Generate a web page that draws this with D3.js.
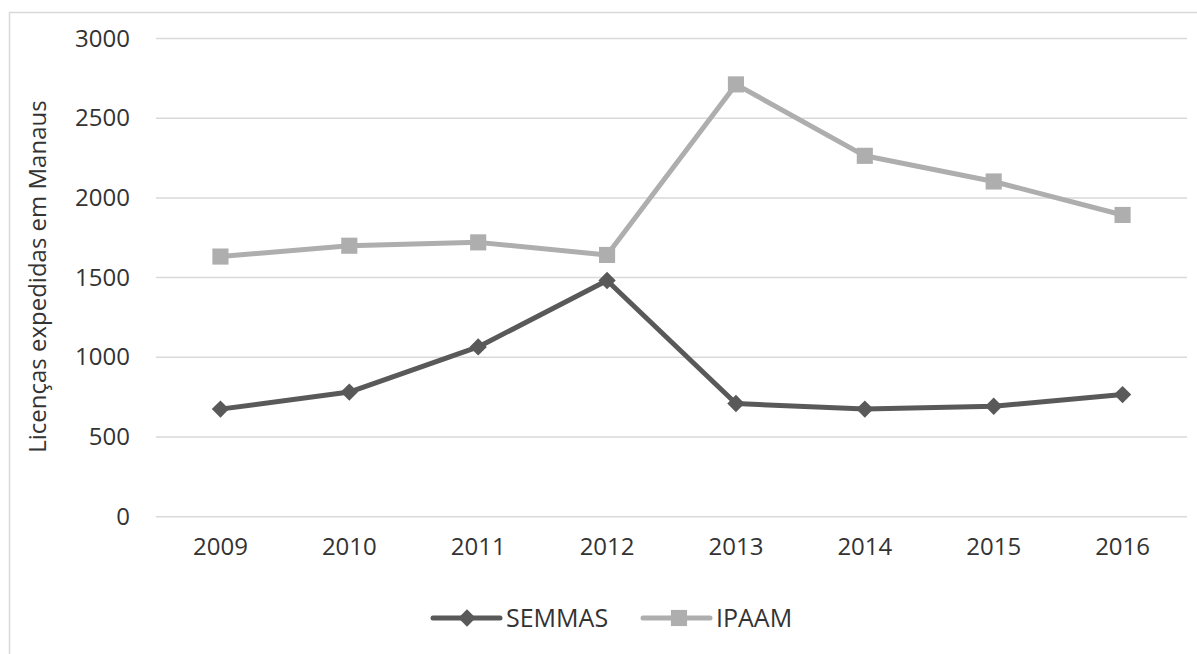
<!doctype html>
<html>
<head>
    <meta charset="utf-8" />
    <title></title>
    <style>
        body { margin: 0; background: #fff; }
        svg text { font-family: "Open Sans", sans-serif; fill: #333; }
    </style>
</head>
<body>
    <div id="chart"></div>

    <script src="https://cdn.jsdelivr.net/npm/d3@7"></script>
    <script>
        var years = ["2009", "2010", "2011", "2012", "2013", "2014", "2015", "2016"];
        var semmas = [675, 782, 1065, 1482, 710, 675, 693, 766];
        var ipaam = [1632, 1700, 1721, 1642, 2712, 2264, 2103, 1893];
        var yTicks = [0, 500, 1000, 1500, 2000, 2500, 3000];

        var w = 1197, h = 654;
        var plotLeft = 156, plotRight = 1187, plotTop = 38.5, plotBottom = 516.7;

        var svg = d3.select("#chart").append("svg").attr("width", w).attr("height", h);

        // outer frame
        svg.append("rect").attr("x", 9.5).attr("y", 12.5).attr("width", 1300).attr("height", 800)
            .attr("fill", "none").attr("stroke", "#d9d9d9").attr("stroke-width", 1.5);

        var x = d3.scaleBand().domain(years).range([plotLeft, plotRight]);
        var y = d3.scaleLinear().domain([0, 3000]).range([plotBottom, plotTop]);

        // grid lines
        svg.selectAll("line.grid").data(yTicks).enter().append("line")
            .attr("class", "grid")
            .attr("x1", plotLeft).attr("x2", plotRight)
            .attr("y1", function(d) { return y(d); })
            .attr("y2", function(d) { return y(d); })
            .attr("stroke", "#d9d9d9").attr("stroke-width", 1.5);

        var yAxis = svg.append("g").attr("transform", "translate(" + plotLeft + ",0)")
            .call(d3.axisLeft(y).tickValues(yTicks).tickFormat(d3.format("d")).tickSize(0).tickPadding(26));
        yAxis.select(".domain").remove();
        yAxis.selectAll("text").style("font-size", "24px").style("font-family", "Open Sans").attr("fill", "#333");

        var xAxis = svg.append("g").attr("transform", "translate(0," + plotBottom + ")")
            .call(d3.axisBottom(x).tickSize(0).tickPadding(21));
        xAxis.select(".domain").remove();
        xAxis.selectAll("text").style("font-size", "24px").style("font-family", "Open Sans").attr("fill", "#333");

        svg.append("text")
            .attr("transform", "translate(46," + ((plotTop + plotBottom) / 2 - 1) + ") rotate(-90)")
            .attr("text-anchor", "middle")
            .style("font-size", "24px")
            .text("Licenças expedidas em Manaus");

        var line = d3.line()
            .x(function(d, i) { return x(years[i]) + x.bandwidth() / 2; })
            .y(function(d) { return y(d); });

        var series = [
            { name: "SEMMAS", values: semmas, color: "#595959", size: 150, rot: 45 },
            { name: "IPAAM", values: ipaam, color: "#aeaeae", size: 260, rot: 0 }
        ];

        series.forEach(function(s) {
            svg.append("path").datum(s.values).attr("d", line)
                .attr("fill", "none").attr("stroke", s.color).attr("stroke-width", 5)
                .attr("stroke-linejoin", "round");
            svg.selectAll(null).data(s.values).enter().append("path")
                .attr("d", d3.symbol().type(d3.symbolSquare).size(s.size))
                .attr("transform", function(d, i) {
                    return "translate(" + (x(years[i]) + x.bandwidth() / 2) + "," + y(d) + ") rotate(" + s.rot + ")";
                })
                .attr("fill", s.color);
        });

        // legend
        var legendX = [433, 643];
        series.forEach(function(s, i) {
            var g = svg.append("g").attr("transform", "translate(" + legendX[i] + ",618)");
            g.append("line").attr("x1", 0).attr("x2", 67).attr("y1", 0).attr("y2", 0)
                .attr("stroke", s.color).attr("stroke-width", 5).attr("stroke-linecap", "round");
            g.append("path").attr("d", d3.symbol().type(d3.symbolSquare).size(s.size))
                .attr("transform", "translate(" + (i === 0 ? 34 : 36) + ",0) rotate(" + s.rot + ")")
                .attr("fill", s.color);
            g.append("text").attr("x", 73).attr("y", 9).style("font-size", "25px").text(s.name);
        });
    </script>
</body>
</html>
